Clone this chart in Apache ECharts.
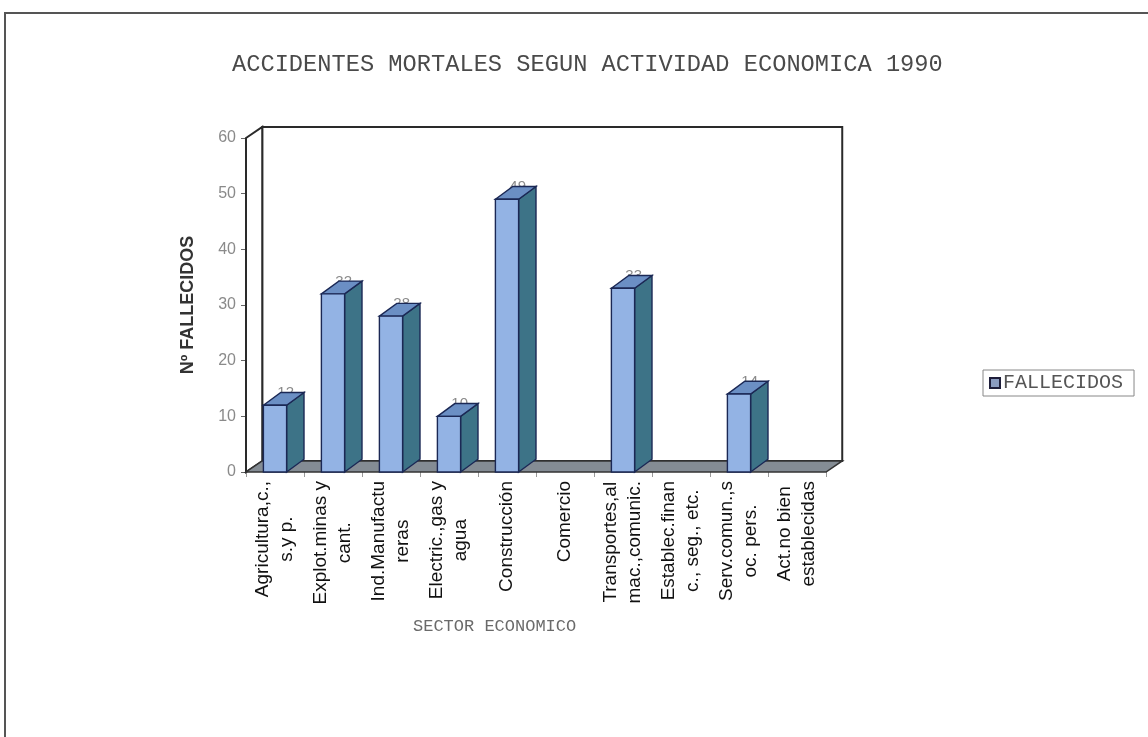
<!DOCTYPE html>
<html>
<head>
<meta charset="utf-8">
<script src="https://cdn.jsdelivr.net/npm/echarts@6/dist/echarts.min.js"></script>
<style>html,body{margin:0;padding:0;background:#fff;}#c{width:1148px;height:737px;}</style>
</head>
<body>
<div id="c"></div>
<script>
const categories = [
  'Agricultura,c.,\ns.y p.',
  'Explot.minas y\ncant.',
  'Ind.Manufactu\nreras',
  'Electric.,gas y\nagua',
  'Construcción',
  'Comercio',
  'Transportes,al\nmac.,comunic.',
  'Establec.finan\nc., seg., etc.',
  'Serv.comun.,s\noc. pers.',
  'Act.no bien\nestablecidas'
];
const fallecidos = [12, 32, 28, 10, 49, 0, 33, 0, 14, 0];
const seriesName = 'FALLECIDOS';
const titleText = 'ACCIDENTES MORTALES SEGUN ACTIVIDAD ECONOMICA 1990';
const xName = 'SECTOR ECONOMICO';
const yName = 'Nº FALLECIDOS';

const chart = echarts.init(document.getElementById('c'));
const DX = 0.28, DY = -0.19;
const FRONT = '#93b3e4', SIDE = '#3d7387', TOP = '#6b8fc4', EDGE = '#1b2855';

function renderWalls(params, api) {
  const cs = params.coordSys;
  const band = api.size([1, 0])[0];
  const dx = band * DX, dy = band * DY;
  const L = cs.x, R = cs.x + cs.width, T = cs.y, B = cs.y + cs.height;
  return {
    type: 'group',
    children: [
      { type: 'rect', shape: { x: L + dx, y: T + dy, width: R - L, height: B - T }, style: { fill: '#fff', stroke: '#2a2a2a', lineWidth: 2 } },
      { type: 'polygon', shape: { points: [[L, T], [L + dx, T + dy], [L + dx, B + dy], [L, B]] }, style: { fill: '#fff', stroke: '#2a2a2a', lineWidth: 2 } },
      { type: 'polygon', shape: { points: [[L, B], [R, B], [R + dx, B + dy], [L + dx, B + dy]] }, style: { fill: '#848c94', stroke: '#333', lineWidth: 1.5 } }
    ]
  };
}

function renderBar(params, api) {
  const idx = api.value(0), v = api.value(1);
  if (!v) return null;
  const base = api.coord([idx, 0]);
  const top = api.coord([idx, v]);
  const band = api.size([1, 0])[0];
  const w = band * 0.40, dx = band * 0.30, dy = band * -0.22;
  const x0 = base[0] - w / 2, x1 = base[0] + w / 2, yb = base[1], yt = top[1];
  return {
    type: 'group',
    children: [
      { type: 'text', style: { text: String(v), x: base[0] + dx / 2 + 2, y: yt - 5, align: 'center', verticalAlign: 'bottom', fill: '#8a8a8a', font: '15px Arial, "Liberation Sans"' } },
      { type: 'polygon', shape: { points: [[x1, yb], [x1 + dx, yb + dy], [x1 + dx, yt + dy], [x1, yt]] }, style: { fill: SIDE, stroke: EDGE, lineWidth: 1.4 } },
      { type: 'polygon', shape: { points: [[x0, yt], [x1, yt], [x1 + dx, yt + dy], [x0 + dx, yt + dy]] }, style: { fill: TOP, stroke: EDGE, lineWidth: 1.4 } },
      { type: 'rect', shape: { x: x0, y: yt, width: w, height: yb - yt }, style: { fill: FRONT, stroke: EDGE, lineWidth: 1.4 } }
    ]
  };
}

chart.setOption({
  animation: false,
  backgroundColor: '#fff',
  title: [
    { text: titleText, left: 227, top: 48, textStyle: { fontFamily: '"Liberation Mono", "DejaVu Sans Mono", monospace', fontWeight: 'normal', fontSize: 23.7, color: '#4a4a4a' } },
    { text: xName, left: 408, top: 613, textStyle: { fontFamily: '"Liberation Mono", monospace', fontWeight: 'normal', fontSize: 17, color: '#6a6a6a' } }
  ],
  graphic: [
    { type: 'line', shape: { x1: 4, y1: 13, x2: 1148, y2: 13 }, style: { stroke: '#555', lineWidth: 2 } },
    { type: 'line', shape: { x1: 5, y1: 13, x2: 5, y2: 737 }, style: { stroke: '#555', lineWidth: 2 } }
  ],
  legend: {
    data: [seriesName],
    left: 983, top: 370,
    orient: 'vertical',
    icon: 'rect', itemWidth: 10, itemHeight: 10, itemGap: 4,
    borderColor: '#888', borderWidth: 1, padding: [3, 11, 3, 6],
    itemStyle: { color: '#8a9cc0', borderColor: '#1e1e3a', borderWidth: 2 },
    textStyle: { fontFamily: '"Liberation Mono", monospace', fontSize: 20, color: '#555', padding: [0, 0, 0, -2] }
  },
  grid: { left: 246, right: 322, top: 138, bottom: 265, containLabel: false },
  xAxis: {
    type: 'category',
    data: categories,
    axisLine: { show: false },
    axisTick: { show: true, alignWithLabel: false, length: 5, lineStyle: { color: '#999' } },
    axisLabel: {
      rotate: 90, margin: 9, interval: 0,
      formatter: function (val) { return val.split('\n').map(function (s) { return '{a|' + s + '}'; }).join('\n'); },
      rich: { a: { align: 'center', fontFamily: 'Arial, "Liberation Sans"', fontSize: 19, lineHeight: 24, color: '#111' } }
    }
  },
  yAxis: {
    type: 'value', min: 0, max: 60, interval: 10,
    name: yName, nameLocation: 'middle', nameGap: 49, nameRotate: 90,
    nameTextStyle: { fontFamily: 'Arial, "Liberation Sans"', fontWeight: 'bold', fontSize: 18, color: '#333' },
    axisLine: { show: false },
    axisTick: { show: true, length: 5, lineStyle: { color: '#666' } },
    axisLabel: { margin: 10, fontFamily: 'Arial, "Liberation Sans"', fontSize: 16, color: '#8a8a8a' },
    splitLine: { show: false }
  },
  series: [
    { type: 'custom', name: 'walls', silent: true, z: 1, clip: false, renderItem: renderWalls, data: [[0, 0]], tooltip: { show: false } },
    { type: 'custom', name: seriesName, z: 3, clip: false, renderItem: renderBar, itemStyle: { color: '#8a9cc0' },
      data: fallecidos.map(function (v, i) { return [i, v]; }) }
  ]
});
</script>
</body>
</html>
